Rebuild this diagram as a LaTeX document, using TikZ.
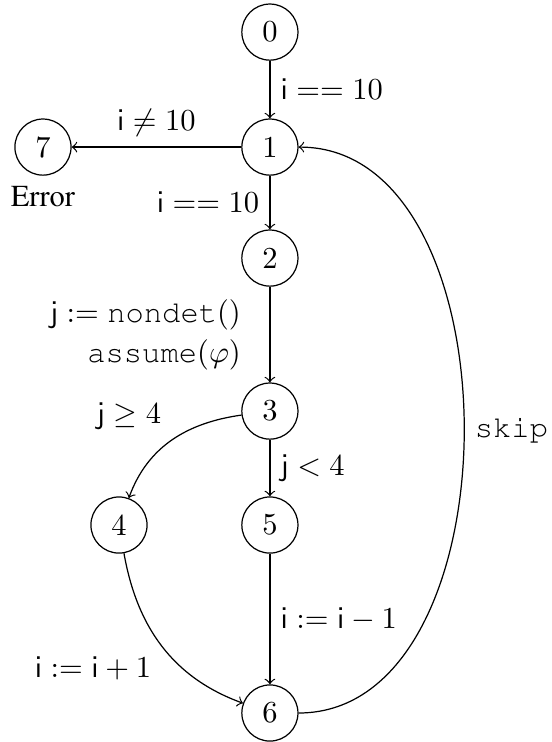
\documentclass[tikz,border=0pt]{standalone}
\usepackage[T1,TU]{fontenc}
\usetikzlibrary{positioning}
\newcommand{\cw}[1]{{\fontencoding{T1}\fontfamily{pcr}\selectfont #1}}
\newcommand{\tm}[1]{{\fontencoding{T1}\fontfamily{ptm}\selectfont #1}}
\tikzset{
  kstate/.style={draw, circle, minimum size=18.4pt, inner sep=0pt},
  flow/.style={->},
}
\begin{document}
\begin{tikzpicture}
  \useasboundingbox (0,0) rectangle (6.36,8.55);
  \node[kstate] (s0) at (3.11,8.18) {0};
  \node[kstate] (s1) at (3.11,6.855) {1};
  \node[kstate] (s7) at (0.495,6.855) {7};
  \node[below=0pt of s7] (err) {\tm{Error}};
  \node[kstate] (s2) at (3.11,5.576) {2};
  \node[kstate] (s3) at (3.11,3.813) {3};
  \node[kstate] (s4) at (1.371,2.50) {4};
  \node[kstate] (s5) at (3.11,2.50) {5};
  \node[kstate] (s6) at (3.11,0.334) {6};
  \draw[flow] (s0) -- (s1) node[midway, right]{$\mathsf{i} == 10$};
  \draw[flow] (s1) -- (s7) node[midway, above]{$\mathsf{i} \neq 10$};
  \draw[flow] (s1) -- (s2) node[midway, left]{$\mathsf{i} == 10$};
  \draw[flow] (s2) -- (s3) node[midway, left, xshift=-6pt, align=right]{$\mathsf{j} := \mbox{\cw{nondet}}()$\\[1pt] \cw{assume}$(\varphi)$};
  \draw[flow] (s3) to[out=188, in=70] node[midway, above left]{$\mathsf{j} \geq 4$} (s4);
  \draw[flow] (s3) -- (s5) node[midway, right]{$\mathsf{j} < 4$};
  \draw[flow] (s4) to[out=-80, in=160] node[midway, below left]{$\mathsf{i} := \mathsf{i} + 1$} (s6);
  \draw[flow] (s5) -- (s6) node[midway, right]{$\mathsf{i} := \mathsf{i} - 1$};
  \draw[flow] (s6) to[out=0, in=0] node[midway, right]{\cw{skip}} (s1);
\end{tikzpicture}
\end{document}
